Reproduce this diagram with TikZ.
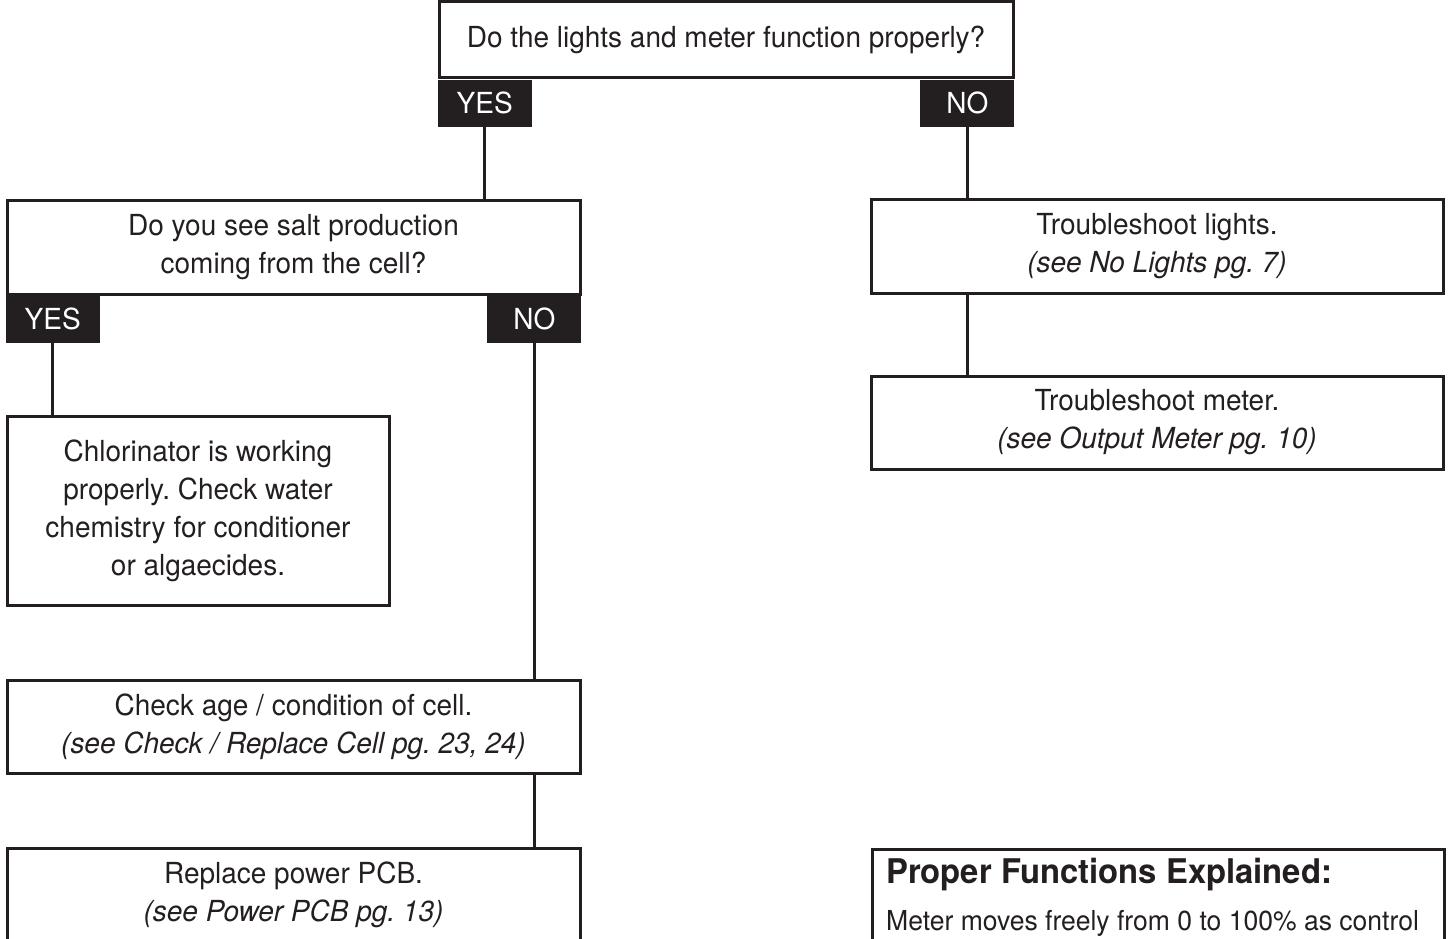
\documentclass[tikz,border=0pt]{standalone}
\usepackage{fontspec}
\setmainfont{TeX Gyre Heros}[FakeStretch=0.965]
\usepackage{tikz}
\usetikzlibrary{positioning}
\definecolor{flowblack}{RGB}{35,31,32}
\tikzstyle{box} = [draw=flowblack, line width=3pt, align=center, inner sep=0pt, text=flowblack, font=\fontsize{29}{38}\selectfont]
\tikzstyle{tab} = [fill=flowblack, text=white, minimum width=94pt, minimum height=47pt, inner sep=0pt, font=\fontsize{29}{32}\selectfont]
\tikzstyle{link} = [line width=2.5pt, color=flowblack]
\frenchspacing

\begin{document}
\begin{tikzpicture}[x=1pt, y=-1pt]
\useasboundingbox (0,0) rectangle (1451,939);
\clip (0,0) rectangle (1451,939);

% Questions
\node[box, minimum width=574pt, minimum height=76pt] (lights) at (726,40) {Do the lights and meter function properly?};
\node[tab, below right=0pt and 0pt of lights.south west] (lightsyes) {YES};
\node[tab, below left=0pt and 0pt of lights.south east] (lightsno) {NO};

\node[box, minimum width=573pt, minimum height=94pt] (salt) at (293.5,247) {Do you see salt production\\coming from the cell?};
\node[tab, below right=0pt and 0pt of salt.south west] (saltyes) {YES};
\node[tab, below left=0pt and 0pt of salt.south east] (saltno) {NO};

% Left branch
\node[box, minimum width=382pt, minimum height=189pt] (working) at (198,510.5) {Chlorinator is working\\properly. Check water\\chemistry for conditioner\\or algaecides.};
\node[box, minimum width=573pt, minimum height=93pt] (cellage) at (293.5,726.5) {Check age / condition of cell.\\\textit{(see Check / Replace Cell pg. 23, 24)}};
\node[box, minimum width=573pt, minimum height=94pt] (powerpcb) at (293.5,895) {Replace power PCB.\\\textit{(see Power PCB pg. 13)}};

% Right branch
\node[box, minimum width=572pt, minimum height=94pt] (nolights) at (1157,246) {Troubleshoot lights.\\\textit{(see No Lights pg. 7)}};
\node[box, minimum width=572pt, minimum height=93pt] (meter) at (1157,422.5) {Troubleshoot meter.\\\textit{(see Output Meter pg. 10)}};

% Note
\node[box, anchor=north west, minimum width=572pt, minimum height=200pt] (proper) at (871,848) {};
\node[anchor=base west, inner sep=0pt, text=flowblack, font=\fontsize{34}{38}\selectfont\bfseries] (propertitle) at (886,883) {Proper Functions Explained:};
\node[anchor=base west, inner sep=0pt, text=flowblack, font=\fontsize{27.5}{32}\selectfont] (properbody) at (886,930) {Meter moves freely from 0 to 100\% as control};

% Lines
\draw[link] (lightsyes.south) -- (lightsyes.south |- salt.north);
\draw[link] (lightsno.south) -- (lightsno.south |- nolights.north);
\draw[link] (lightsno.south |- nolights.south) -- (lightsno.south |- meter.north);
\draw[link] (saltyes.south) -- (saltyes.south |- working.north);
\draw[link] (saltno.south) -- (saltno.south |- cellage.north);
\draw[link] (saltno.south |- cellage.south) -- (saltno.south |- powerpcb.north);
\end{tikzpicture}
\end{document}
